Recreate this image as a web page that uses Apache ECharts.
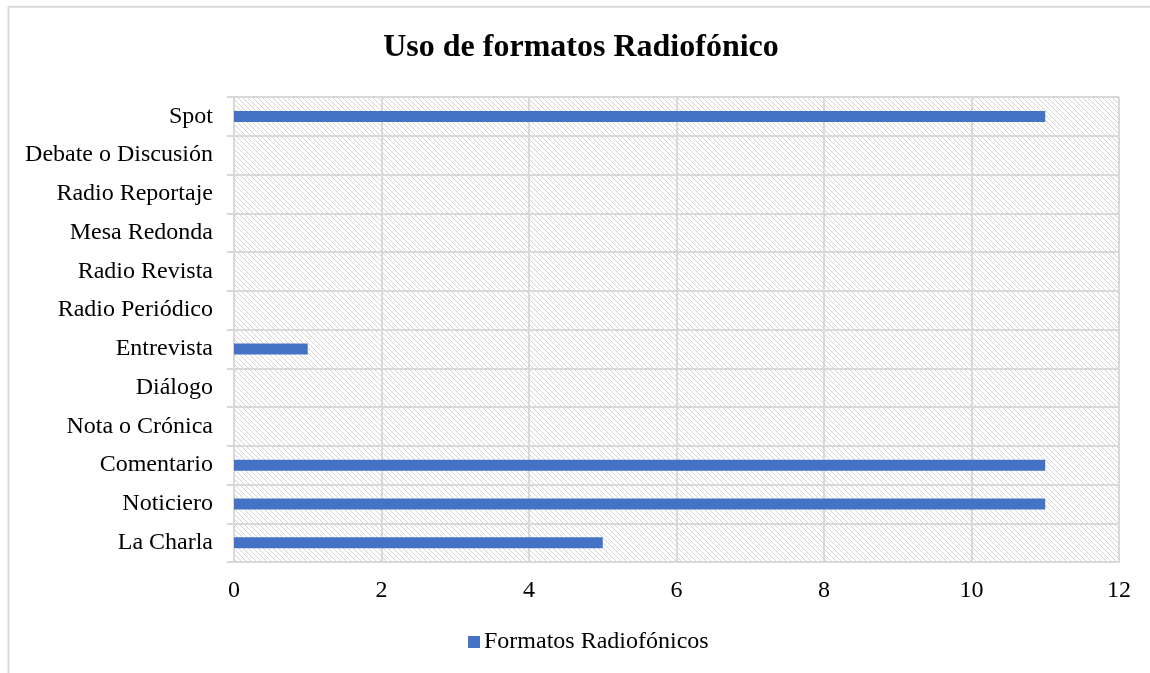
<!DOCTYPE html>
<html>
<head>
<meta charset="utf-8">
<title>Uso de formatos Radiofónico</title>
<script src="https://cdn.jsdelivr.net/npm/echarts@6/dist/echarts.min.js"></script>
<style>
  html, body { margin: 0; padding: 0; background: #ffffff; }
  #chart { width: 1150px; height: 673px; }
</style>
</head>
<body>
<div id="chart"></div>
<script>
// Radio formats, bottom to top
const categories = [
  'La Charla', 'Noticiero', 'Comentario', 'Nota o Crónica', 'Diálogo',
  'Entrevista', 'Radio Periódico', 'Radio Revista', 'Mesa Redonda',
  'Radio Reportaje', 'Debate o Discusión', 'Spot'
];
const formatCounts = [5, 11, 11, 0, 0, 1, 0, 0, 0, 0, 0, 11];
const seriesName = 'Formatos Radiofónicos';
const chartTitle = 'Uso de formatos Radiofónico';
const xTicks = { min: 0, max: 12, interval: 2 };

const SERIF = "'Liberation Serif', 'Times New Roman', serif";
const GRID_GRAY = '#d9d9d9';

// Light downward-diagonal hatch for the plot background
function makeHatch() {
  const size = 5;
  const c = document.createElement('canvas');
  c.width = size; c.height = size;
  const ctx = c.getContext('2d');
  ctx.fillStyle = '#ffffff';
  ctx.fillRect(0, 0, size, size);
  ctx.fillStyle = '#d4d4d4';
  for (let i = 0; i < size; i++) ctx.fillRect(i, i, 1, 1);
  return c;
}

const chart = echarts.init(document.getElementById('chart'), null, { renderer: 'canvas' });

chart.setOption({
  backgroundColor: '#ffffff',
  animation: false,
  graphic: [
    {
      type: 'rect',
      shape: { x: 8.5, y: 6.7, width: 1200, height: 800 },
      style: { fill: null, stroke: GRID_GRAY, lineWidth: 2 },
      silent: true
    },
    {
      type: 'text',
      x: 581, y: 48,
      style: {
        text: chartTitle,
        font: 'bold 32px ' + SERIF,
        fill: '#000000',
        textAlign: 'center',
        textVerticalAlign: 'middle'
      }
    }
  ],
  legend: {
    data: [seriesName],
    left: 463,
    top: 625,
    itemWidth: 12,
    itemHeight: 12,
    itemGap: 10,
    icon: 'rect',
    textStyle: { fontFamily: SERIF, fontSize: 24, color: '#000000', padding: [0, 0, 0, -1] }
  },
  grid: {
    left: 234, right: 31, top: 97, bottom: 111,
    show: true,
    borderWidth: 0,
    backgroundColor: { image: makeHatch(), repeat: 'repeat' },
    containLabel: false
  },
  xAxis: {
    type: 'value',
    min: xTicks.min, max: xTicks.max, interval: xTicks.interval,
    axisLine: { show: true, lineStyle: { color: GRID_GRAY, width: 2 } },
    axisTick: { show: false },
    splitLine: { show: true, lineStyle: { color: GRID_GRAY, width: 2 } },
    axisLabel: { fontFamily: SERIF, fontSize: 24, color: '#000000', margin: 17 }
  },
  yAxis: {
    type: 'category',
    data: categories,
    axisLine: { show: true, lineStyle: { color: GRID_GRAY, width: 2 } },
    axisTick: { show: true, length: 7, lineStyle: { color: GRID_GRAY, width: 2 } },
    splitLine: { show: true, lineStyle: { color: GRID_GRAY, width: 2 } },
    axisLabel: { fontFamily: SERIF, fontSize: 24, color: '#000000', margin: 21 }
  },
  series: [{
    name: seriesName,
    type: 'bar',
    data: formatCounts,
    barWidth: 11,
    itemStyle: { color: '#4472C4' }
  }]
});
</script>
</body>
</html>
